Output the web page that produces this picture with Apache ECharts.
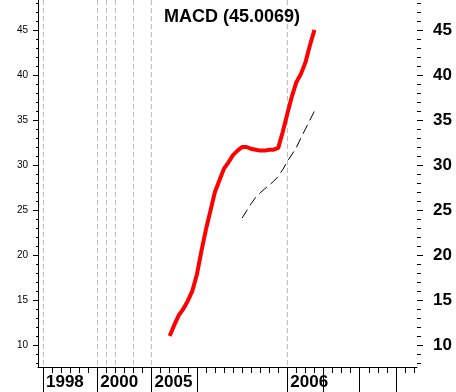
<!DOCTYPE html>
<html>
<head>
<meta charset="utf-8">
<script src="https://cdn.jsdelivr.net/npm/echarts@6/dist/echarts.min.js"></script>
<style>
html,body{margin:0;padding:0;background:#fff;}
#chart{width:456px;height:392px;}
</style>
</head>
<body>
<div id="chart"></div>
<script>
// ---- data ----
const titleText = 'MACD (45.0069)';
const slotCount = 83;                       // half-period slots on the time axis
const yearLabels = ['1998', '2000', '2005', '2006'];
const yearSlots = [0, 12, 24, 54];
const longTickSlots = [0, 12, 24, 34, 54, 62, 70, 78];
const gridLineSlots = [0, 12, 14, 16, 20, 24, 54];
const macdStart = 28;
const macd = [11.0, 12.2, 13.3, 14.0, 14.9, 16.0, 17.8, 20.4, 22.8, 24.9, 27.0, 28.3, 29.6, 30.3, 31.1, 31.6, 32.0, 32.0, 31.8, 31.7, 31.6, 31.6, 31.7, 31.7, 31.9, 33.7, 35.7, 37.6, 39.2, 40.1, 41.4, 43.3, 45.0069];
const signalStart = 44;
const signal = [24.1, 24.9, 25.7, 26.4, 26.9, 27.35, 27.75, 28.2, 28.75, 29.5, 30.4, 31.15, 31.95, 33.0, 34.0, 35.0, 36.0];

// ---- build ----
const categories = [];
for (let i = 0; i < slotCount; i++) {
  const k = yearSlots.indexOf(i);
  categories.push(k >= 0 ? yearLabels[k] : '');
}
function placeSeries(vals, start) {
  const out = new Array(slotCount).fill(null);
  vals.forEach((v, j) => { out[start + j] = v; });
  return out;
}
const macdData = placeSeries(macd, macdStart);
const signalData = placeSeries(signal, signalStart);

const FONT = '"Liberation Sans", Arial, sans-serif';
const chart = echarts.init(document.getElementById('chart'), null, {renderer: 'canvas'});

const option = {
  animation: false,
  backgroundColor: '#ffffff',
  title: {
    text: titleText, left: 159, top: 3,
    textStyle: {fontFamily: FONT, fontSize: 18, fontWeight: 'bold', color: '#000'}
  },
  grid: [
    {left: 38, right: 39, top: 0, bottom: 25},   // frame
    {left: 43, right: 42, top: 0, bottom: 25},   // data / time axis
    {left: 38, right: 39, top: 3, bottom: 29},   // minor y ticks (8..48)
    {left: 38, right: 39, top: 30, bottom: 47}   // major y ticks (10..45)
  ],
  xAxis: [
    {gridIndex: 0, type: 'value', min: 0, max: 1, position: 'bottom',
     axisLine: {show: true, onZero: false, lineStyle: {color: '#000', width: 1}},
     axisTick: {show: false}, axisLabel: {show: false}, splitLine: {show: false}},
    {gridIndex: 1, type: 'category', data: categories, boundaryGap: false, position: 'bottom',
     axisLine: {show: false, onZero: false},
     axisTick: {show: true, length: 6, interval: (i) => i % 2 === 0, lineStyle: {color: '#000'}},
     axisLabel: {show: false},
     splitLine: {show: true, interval: (i) => gridLineSlots.indexOf(i) >= 0,
                 lineStyle: {color: '#bdbdbd', type: [5, 3], width: 1}}},
    {gridIndex: 1, type: 'category', data: categories, boundaryGap: false, position: 'bottom', offset: 0,
     axisLine: {show: false, onZero: false},
     axisTick: {show: true, length: 25, interval: (i) => longTickSlots.indexOf(i) >= 0, lineStyle: {color: '#000'}},
     axisLabel: {show: true, interval: (i) => yearSlots.indexOf(i) >= 0, align: 'left', margin: 7,
                 padding: [0, 0, 0, 3],
                 fontFamily: FONT, fontSize: 17, fontWeight: 'bold', color: '#000'},
     splitLine: {show: false}},
    {gridIndex: 2, type: 'value', show: false, min: 0, max: 1},
    {gridIndex: 3, type: 'value', show: false, min: 0, max: 1}
  ],
  yAxis: [
    {gridIndex: 0, type: 'value', min: 0, max: 1, position: 'left',
     axisLine: {show: true, onZero: false, lineStyle: {color: '#000', width: 1}},
     axisTick: {show: false}, axisLabel: {show: false}, splitLine: {show: false}},
    {gridIndex: 1, type: 'value', show: false, min: 8 - 4 / 9, max: 48 + 3 / 9, splitLine: {show: false}},
    {gridIndex: 2, type: 'value', min: 8, max: 48, interval: 1, position: 'left',
     axisLine: {show: false}, axisTick: {show: true, length: 2, lineStyle: {color: '#000'}},
     axisLabel: {show: false}, splitLine: {show: false}},
    {gridIndex: 2, type: 'value', min: 8, max: 48, interval: 1, position: 'right',
     axisLine: {show: false}, axisTick: {show: true, length: 4, lineStyle: {color: '#000'}},
     axisLabel: {show: false}, splitLine: {show: false}},
    {gridIndex: 3, type: 'value', min: 10, max: 45, interval: 5, position: 'left',
     axisLine: {show: false}, axisTick: {show: true, length: 5, lineStyle: {color: '#000'}},
     axisLabel: {show: true, margin: 10, fontFamily: FONT, fontSize: 10, color: '#000'},
     splitLine: {show: false}},
    {gridIndex: 3, type: 'value', min: 10, max: 45, interval: 5, position: 'right',
     axisLine: {show: false}, axisTick: {show: true, length: 6, lineStyle: {color: '#000'}},
     axisLabel: {show: true, margin: 16, fontFamily: FONT, fontSize: 17, fontWeight: 'bold', color: '#000'},
     splitLine: {show: false}}
  ],
  series: [
    {name: 'MACD', type: 'line', xAxisIndex: 1, yAxisIndex: 1, data: macdData,
     showSymbol: false, symbol: 'none', connectNulls: false, z: 5,
     lineStyle: {color: '#ff0000', width: 4}},
    {name: 'Signal', type: 'line', xAxisIndex: 1, yAxisIndex: 1, data: signalData,
     showSymbol: false, symbol: 'none', connectNulls: false, z: 4,
     lineStyle: {color: '#000000', width: 1, type: [10, 5]}}
  ]
};
chart.setOption(option);
</script>
</body>
</html>
